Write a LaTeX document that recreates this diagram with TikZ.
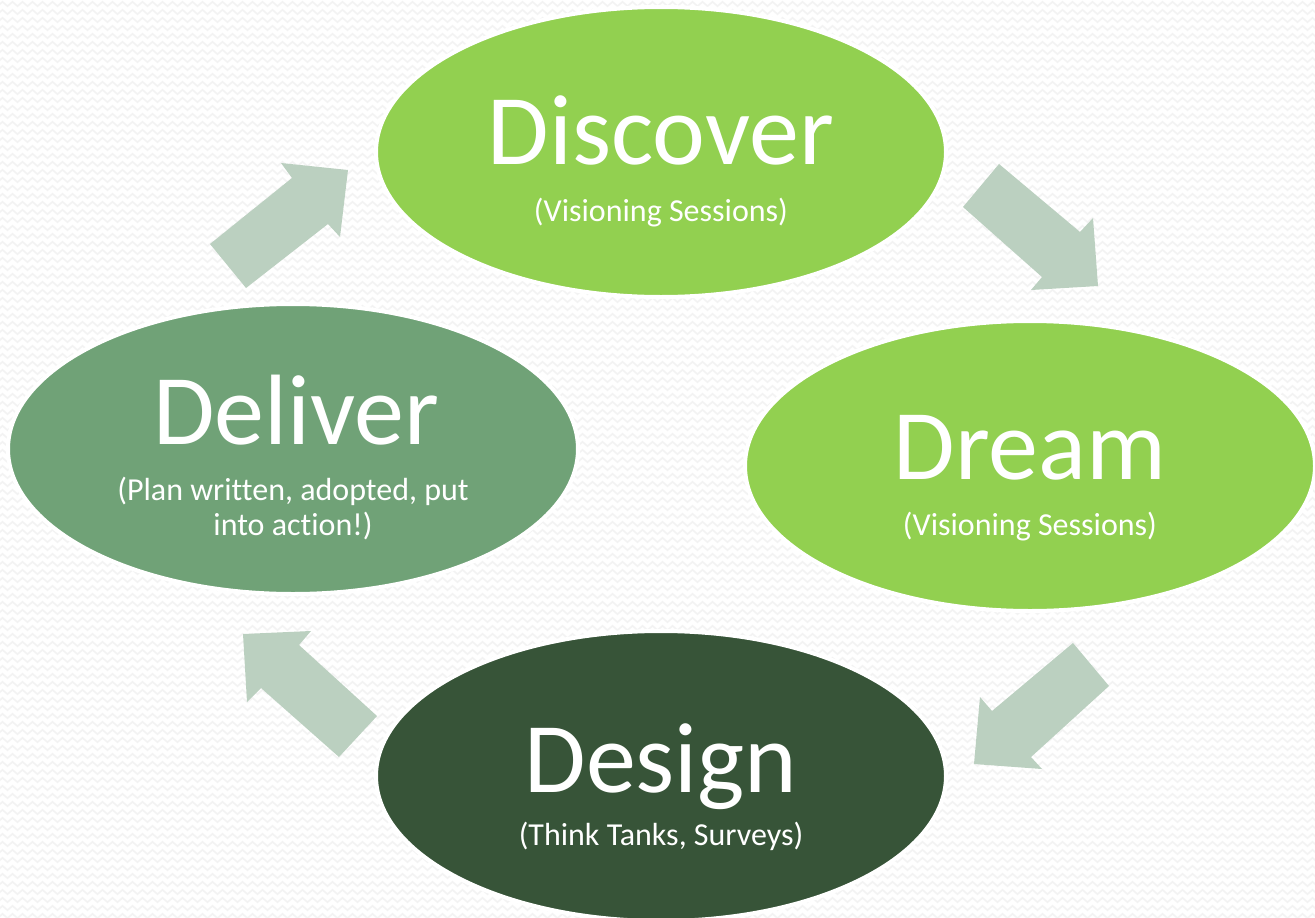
\documentclass[tikz,border=0pt]{standalone}
\usepackage{fontspec}
\setmainfont{Carlito}[Ligatures=NoCommon]
\usetikzlibrary{shapes.geometric,decorations.pathmorphing}
\definecolor{lightgreen}{HTML}{92D050}
\definecolor{midgreen}{HTML}{70A277}
\definecolor{darkgreen}{HTML}{375438}
\definecolor{arrowgreen}{HTML}{BBD0C0}
\definecolor{bgzig}{HTML}{F3F3F3}
\tikzset{
  phase/.style={ellipse, draw=white, line width=4pt, inner sep=0pt,
    minimum width=570pt, minimum height=290pt},
  title/.style={text=white, anchor=base, font=\fontsize{100}{100}\selectfont},
  sub/.style={text=white, anchor=base, align=center, font=\fontsize{32}{35}\selectfont},
  blockarrow/.style={fill=arrowgreen, draw=none},
  zig/.style={draw=bgzig, line width=1.6pt, decorate,
    decoration={zigzag, amplitude=2.2pt, segment length=10pt}}
}
\begin{document}
\begin{tikzpicture}[x=1pt, y=-1pt]
\useasboundingbox (0,0) rectangle (1315,918);
\clip (0,0) rectangle (1315,918);
\fill[white] (0,0) rectangle (1315,918);
\foreach \r in {4,12,...,924} {
  \draw[zig] (-10,\r) -- (1330,\r);
}
% ellipses
\node[phase, fill=lightgreen] (discover) at (661,152) {};
\node[phase, fill=lightgreen] (dream) at (1030,466) {};
\node[phase, fill=midgreen] (deliver) at (293,449) {};
\node[phase, fill=darkgreen] (design) at (661,776) {};
% texts
\node[title] (t1) at (661,164) {Discover};
\node[sub] (s1) at (661,221) {(Visioning Sessions)};
\node[title] (t2) at (1030,479) {Dream};
\node[sub] (s2) at (1030,535) {(Visioning Sessions)};
\node[title] (t3) at (296,444) {Deliver};
\node[sub] (s3) at (293,535) {(Plan written, adopted, put\\into action!)};
\node[title] (t4) at (661,792) {Design};
\node[sub] (s4) at (661,845) {(Think Tanks, Surveys)};
% block arrows
\fill[blockarrow] (210,244) -- (292,178) -- (281,163) -- (348,170) -- (340,237) -- (328,224) -- (246,288) -- cycle;
\fill[blockarrow] (999,164) -- (1080,232) -- (1093,218) -- (1098,286) -- (1031,290) -- (1042,277) -- (963,207) -- cycle;
\fill[blockarrow] (1109,686) -- (1031,757) -- (1042,769) -- (974,764) -- (980,697) -- (992,711) -- (1073,643) -- cycle;
\fill[blockarrow] (339,757) -- (261,688) -- (247,702) -- (243,634) -- (311,631) -- (299,645) -- (377,716) -- cycle;
\end{tikzpicture}
\end{document}
